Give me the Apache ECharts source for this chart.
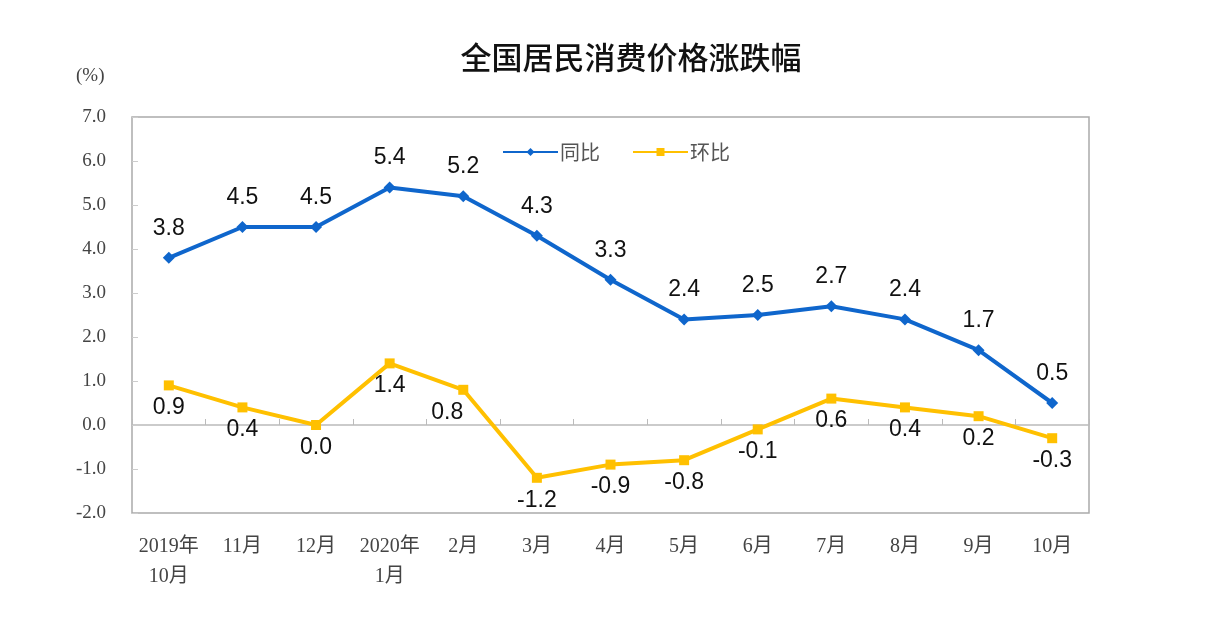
<!DOCTYPE html>
<html><head><meta charset="utf-8">
<script src="https://cdn.jsdelivr.net/npm/echarts@6/dist/echarts.min.js"></script>
<style>html,body{margin:0;padding:0;background:#fff}#c{width:1216px;height:628px}</style>
</head><body><div id="c"></div>
<script>
var categories = ['2019年\n10月','11月','12月','2020年\n1月','2月','3月','4月','5月','6月','7月','8月','9月','10月'];
var yoy = [3.8,4.5,4.5,5.4,5.2,4.3,3.3,2.4,2.5,2.7,2.4,1.7,0.5];
var mom = [0.9,0.4,0.0,1.4,0.8,-1.2,-0.9,-0.8,-0.1,0.6,0.4,0.2,-0.3];
var serif = 'Liberation Serif, "Noto Sans CJK SC", serif';
var sans = 'Liberation Sans, Arial, sans-serif';
var chart = echarts.init(document.getElementById('c'));
chart.setOption({
  animation:false,
  title:{text:'全国居民消费价格涨跌幅',left:626,textAlign:'center',top:37,
    textStyle:{fontFamily:'"Noto Sans CJK SC", sans-serif',fontSize:31,fontWeight:500,color:'#111'}},
  graphic:[{type:'text',left:76,top:67,style:{text:'(%)',font:'19px '+serif,fill:'#444'}}],
  legend:{left:497,top:137,itemWidth:55,itemHeight:10,itemGap:32,
    textStyle:{fontFamily:'"Noto Sans CJK SC", sans-serif',fontSize:20,color:'#555',padding:[0,0,0,-3]},
    data:['同比','环比']},
  grid:{left:132,right:127,top:117,bottom:115,show:true,borderColor:'#aaa',borderWidth:1.5},
  xAxis:[{type:'category',data:categories,position:'bottom',
      axisLine:{onZero:true,lineStyle:{color:'#bbb',width:1.5}},
      axisTick:{show:true,inside:true,length:6,lineStyle:{color:'#bbb'}},
      axisLabel:{show:false}},
    {type:'category',data:categories,position:'bottom',
      axisLine:{onZero:false,show:false},axisTick:{show:false},
      axisLabel:{interval:0,fontFamily:serif,fontSize:20,color:'#444',margin:19,lineHeight:30}}],
  yAxis:{type:'value',min:-2,max:7,interval:1,
    axisLine:{show:false},splitLine:{show:false},
    axisTick:{show:true,inside:true,length:6,lineStyle:{color:'#ccc'}},
    axisLabel:{fontFamily:serif,fontSize:19,color:'#444',margin:26,formatter:function(v){return v.toFixed(1);}}},
  series:[
    {name:'同比',type:'line',data:yoy,xAxisIndex:0,symbol:'diamond',symbolSize:12,
      lineStyle:{color:'#0F66CC',width:4},itemStyle:{color:'#0F66CC'},
      label:{show:true,position:'top',distance:12,fontFamily:sans,fontSize:23,color:'#111',
        formatter:function(p){return p.value.toFixed(1);}}},
    {name:'环比',type:'line',data:mom.map(function(v,i){
        return i===4?{value:v,label:{offset:[-16,0]}}:v;}),xAxisIndex:0,symbol:'rect',symbolSize:10,
      lineStyle:{color:'#FFC000',width:4},itemStyle:{color:'#FFC000'},
      label:{show:true,position:'bottom',distance:6,fontFamily:sans,fontSize:23,color:'#111',
        formatter:function(p){return (typeof p.value==='number'?p.value:p.data.value).toFixed(1);}}}
  ]
});
</script></body></html>
